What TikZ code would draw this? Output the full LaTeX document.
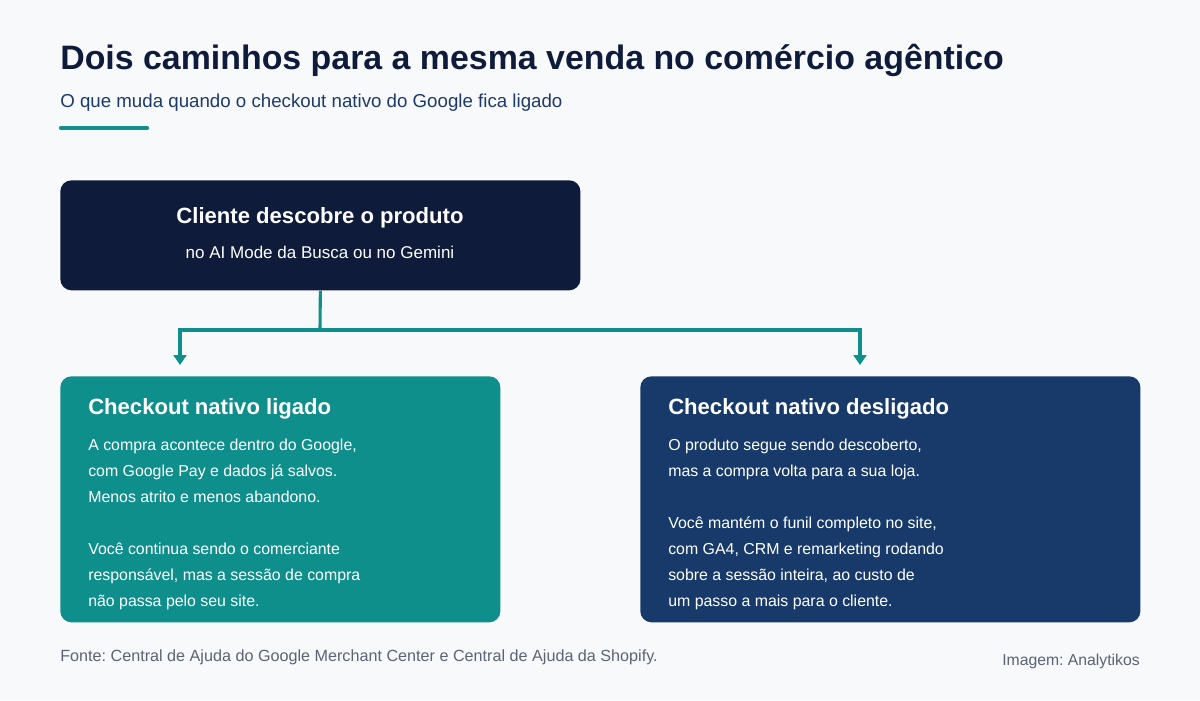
\documentclass[tikz,border=0pt]{standalone}
\usepackage{fontspec}
\setmainfont{Liberation Sans}
\frenchspacing
\usetikzlibrary{positioning,arrows.meta}
\definecolor{pagebg}{HTML}{F7F9FB}
\definecolor{navy}{HTML}{0F1B3A}
\definecolor{tealbox}{HTML}{0E8F8C}
\definecolor{bluebox}{HTML}{173A6B}
\definecolor{subblue}{HTML}{1E3A6B}
\definecolor{footgray}{HTML}{5A6475}
\tikzstyle{box} = [rounded corners=8pt,
                   anchor=north west,
                   inner sep=0pt]
\tikzstyle{boxhead} = [anchor=north west,
                       text=white,
                       inner sep=0pt,
                       font=\fontsize{15.7}{19}\selectfont\bfseries]
\tikzstyle{boxbody} = [anchor=north west,
                       text=white,
                       inner sep=0pt,
                       align=left,
                       font=\fontsize{11.3}{18.5}\selectfont]
\tikzstyle{conn} = [draw=tealbox, line width=2.2pt]

\begin{document}
\begin{tikzpicture}[x=0.025cm, y=-0.025cm]
    \useasboundingbox[fill=pagebg] (0,0) rectangle (1200,700);

    %%%%%%%%%%
    % HEADER %
    %%%%%%%%%%
    \node[anchor=west, inner sep=0pt, text=navy, font=\fontsize{24.1}{28}\selectfont\bfseries] (title) at (60,60) {Dois caminhos para a mesma venda no comércio agêntico};
    \node[anchor=west, inner sep=0pt, text=subblue, font=\fontsize{13.3}{16}\selectfont] (subtitle) at (60,103) {O que muda quando o checkout nativo do Google fica ligado};
    \draw[tealbox, line width=3pt, line cap=round] (61,128) -- (147,128);

    %%%%%%%%%%%%
    % TOP BOX  %
    %%%%%%%%%%%%
    \node[box, fill=navy, minimum width=13cm, minimum height=2.75cm] (top) at (60,180) {};
    \node[text=white, font=\fontsize{15.7}{19}\selectfont\bfseries] (tophead) at (320,218) {Cliente descobre o produto};
    \node[text=white, font=\fontsize{12.1}{14}\selectfont] (topsub) at (320,252) {no AI Mode da Busca ou no Gemini};

    %%%%%%%%%%%%%%
    % CONNECTORS %
    %%%%%%%%%%%%%%
    \coordinate (split) at (320,330);
    \coordinate (leftin) at (180,365);
    \coordinate (rightin) at (860,365);
    \draw[conn] (top.south) -- (split);
    \draw[conn, -{Triangle[width=9pt,length=7pt]}] (split) -| (leftin);
    \draw[conn, -{Triangle[width=9pt,length=7pt]}] (split) -| (rightin);

    %%%%%%%%%%%%%
    % LEFT BOX  %
    %%%%%%%%%%%%%
    \node[box, fill=tealbox, minimum width=11cm, minimum height=6.15cm] (left) at (60,376) {};
    \node[boxhead] (lefthead) at (88,398) {Checkout nativo ligado};
    \node[boxbody] (leftbody) at (88,439) {A compra acontece dentro do Google,\\
        com Google Pay e dados já salvos.\\
        Menos atrito e menos abandono.\\
        \mbox{}\\
        Você continua sendo o comerciante\\
        responsável, mas a sessão de compra\\
        não passa pelo seu site.};

    %%%%%%%%%%%%%
    % RIGHT BOX %
    %%%%%%%%%%%%%
    \node[box, fill=bluebox, minimum width=12.5cm, minimum height=6.15cm] (right) at (640,376) {};
    \node[boxhead] (righthead) at (668,398) {Checkout nativo desligado};
    \node[boxbody] (rightbody) at (668,439) {O produto segue sendo descoberto,\\
        mas a compra volta para a sua loja.\\
        \mbox{}\\
        Você mantém o funil completo no site,\\
        com GA4, CRM e remarketing rodando\\
        sobre a sessão inteira, ao custo de\\
        um passo a mais para o cliente.};

    %%%%%%%%%%
    % FOOTER %
    %%%%%%%%%%
    \node[anchor=west, inner sep=0pt, text=footgray, font=\fontsize{11.5}{13}\selectfont] (source) at (60,657) {Fonte: Central de Ajuda do Google Merchant Center e Central de Ajuda da Shopify.};
    \node[anchor=east, inner sep=0pt, text=footgray, font=\fontsize{11.2}{13}\selectfont] (credit) at (1140,661) {Imagem: Analytikos};
\end{tikzpicture}
\end{document}
